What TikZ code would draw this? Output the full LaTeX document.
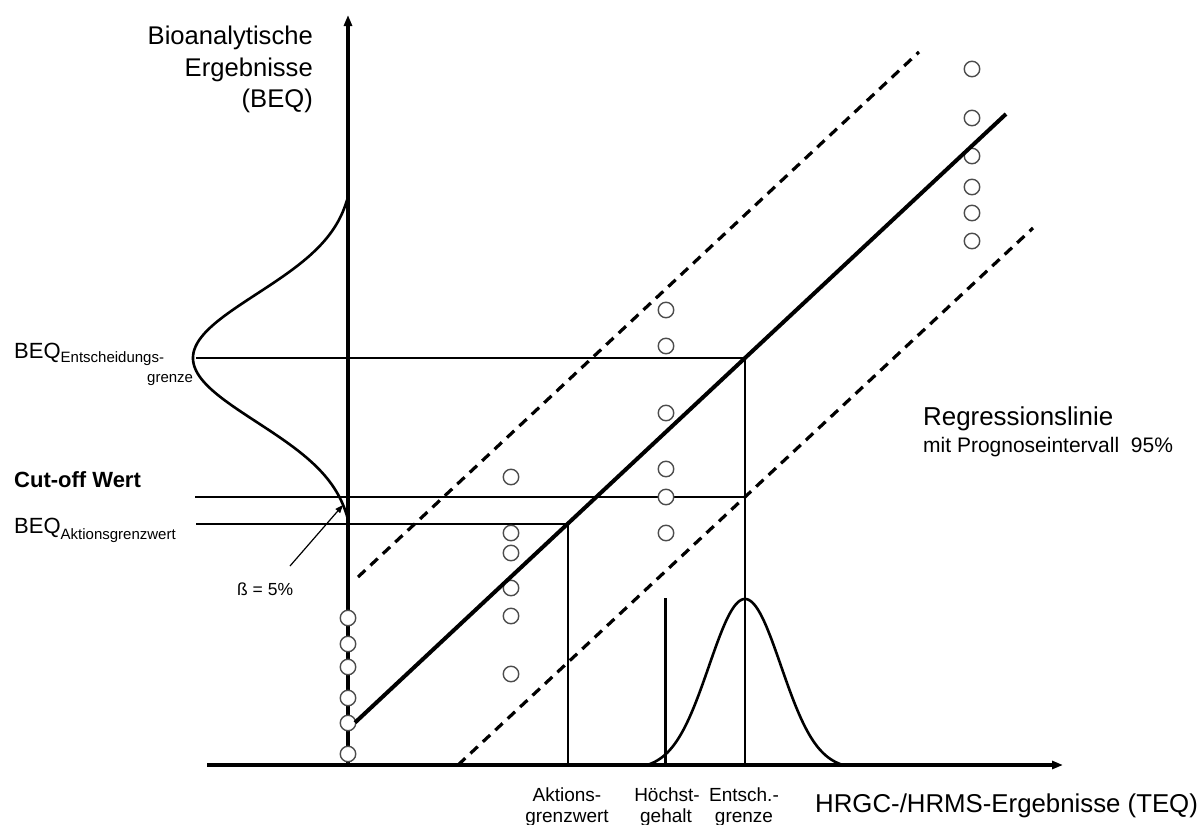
\documentclass[tikz,border=0pt]{standalone}
\usepackage{fontspec}
\setmainfont{Liberation Sans}
\usetikzlibrary{arrows.meta}
\newcommand{\fsz}[1]{\fontsize{#1}{#1}\selectfont}
\begin{document}
\begin{tikzpicture}[x=1pt,y=-1pt,
  thinline/.style={line width=1.5pt},
  axisline/.style={line width=3.2pt,-{Triangle[length=11pt,width=8pt]}},
  regline/.style={line width=4pt},
  confline/.style={line width=3.2pt,dash pattern=on 10pt off 7pt},
  bell/.style={line width=2.6pt},
  obs/.style={circle,draw=black!70,fill=white,line width=1.4pt,minimum size=15.5pt,inner sep=0pt},
  lbl/.style={inner sep=0pt},
  ptr/.style={line width=1.2pt,-{Triangle[length=8pt,width=6pt]}}]
\useasboundingbox (0,0) rectangle (1203,825);
% key points
\coordinate (O) at (348,765);
\coordinate (ytop) at (348,15);
\coordinate (xl) at (207,765);
\coordinate (xr) at (1063,765);
\coordinate (Eleft) at (196,358);
\coordinate (E) at (745,358);
\coordinate (Ebot) at (745,765);
\coordinate (Cleft) at (195,497);
\coordinate (C) at (745,497);
\coordinate (Aleft) at (196,524);
\coordinate (A) at (568,524);
\coordinate (Abot) at (568,765);
\coordinate (Htop) at (665,598);
\coordinate (Hbot) at (665,765);
\coordinate (R1) at (355,722.6);
\coordinate (R2) at (1006,114);
\coordinate (U1) at (358,577);
\coordinate (U2) at (919,52);
\coordinate (L1) at (458,765);
\coordinate (L2) at (1033,228);
\coordinate (bs) at (290,566);
\coordinate (bt) at (343,505);
% axes
\draw[axisline] (O) -- (ytop);
\draw[axisline] (xl) -- (xr);
% thin helper lines
\draw[thinline] (Eleft) -- (E) -- (Ebot);
\draw[thinline] (Cleft) -- (C);
\draw[thinline] (Aleft) -- (A) -- (Abot);
\draw[line width=3pt] (Htop) -- (Hbot);
% distributions
\draw[bell] plot[domain=200:517,samples=140,smooth,variable=\t]
  ({347-154*(exp(-0.5*((\t-358)/64)*((\t-358)/64))-0.0475)/0.9525},{\t});
\draw[bell] plot[domain=647:843,samples=140,smooth,variable=\t]
  ({\t},{765-166*(exp(-0.5*((\t-745)/36)*((\t-745)/36))-0.0246)/0.9754});
% prediction interval
\draw[confline] (U1) -- (U2);
\draw[confline] (L1) -- (L2);
% observations
\foreach \i/\px/\py in {a1/348/618,a2/348/644,a3/348/667,a4/348/698,a5/348/723,a6/348/754,
  b1/511/477,b2/511/533,b3/511/553,b4/511/588,b5/511/616,b6/511/674,
  c1/666/310,c2/666/346,c3/666/413,c4/666/469,c5/666/497,c6/666/533,
  d1/972/69,d2/972/118,d3/972/156,d4/972/187,d5/972/213,d6/972/241}
  \node[obs] (\i) at (\px,\py) {};
% regression line
\draw[regline] (R1) -- (R2);
% beta arrow
\draw[ptr] (bs) -- (bt);
% labels
\node[lbl,anchor=base east,font=\fsz{25.6}] (y1) at (313,44) {Bioanalytische};
\node[lbl,anchor=base east,font=\fsz{25.6}] (y2) at (313,76) {Ergebnisse};
\node[lbl,anchor=base east,font=\fsz{25.6}] (y3) at (313,107) {(BEQ)};
\node[lbl,anchor=base west,font=\fsz{22}] (beqE) at (14,358) {BEQ\raisebox{-4pt}{\fsz{15}Entscheidungs-}};
\node[lbl,anchor=base west,font=\fsz{15}] (beqE2) at (147,382) {grenze};
\node[lbl,anchor=base west,font=\fsz{22}\bfseries] (cut) at (14,487) {Cut-off Wert};
\node[lbl,anchor=base west,font=\fsz{22}] (beqA) at (14,533) {BEQ\raisebox{-6pt}{\fsz{15}Aktionsgrenzwert}};
\node[lbl,anchor=base west,font=\fsz{17.5}] (beta) at (237,595) {ß = 5\%};
\node[lbl,anchor=base west,font=\fsz{25.9}] (reg1) at (923,425) {Regressionslinie};
\node[lbl,anchor=base west,font=\fsz{21}] (reg2) at (923,452) {mit Prognoseintervall\ \ 95\%};
\node[lbl,anchor=base west,font=\fsz{25.8}] (xlab) at (815,812) {HRGC-/HRMS-Ergebnisse (TEQ)};
\node[lbl,anchor=base,font=\fsz{19}] (ak1) at (567,801) {Aktions-};
\node[lbl,anchor=base,font=\fsz{19}] (ak2) at (567,822) {grenzwert};
\node[lbl,anchor=base,font=\fsz{19}] (hg1) at (667,801) {Höchst-};
\node[lbl,anchor=base,font=\fsz{19}] (hg2) at (666,822) {gehalt};
\node[lbl,anchor=base,font=\fsz{19}] (eg1) at (744,801) {Entsch.-};
\node[lbl,anchor=base,font=\fsz{19}] (eg2) at (744,822) {grenze};
\end{tikzpicture}
\end{document}
